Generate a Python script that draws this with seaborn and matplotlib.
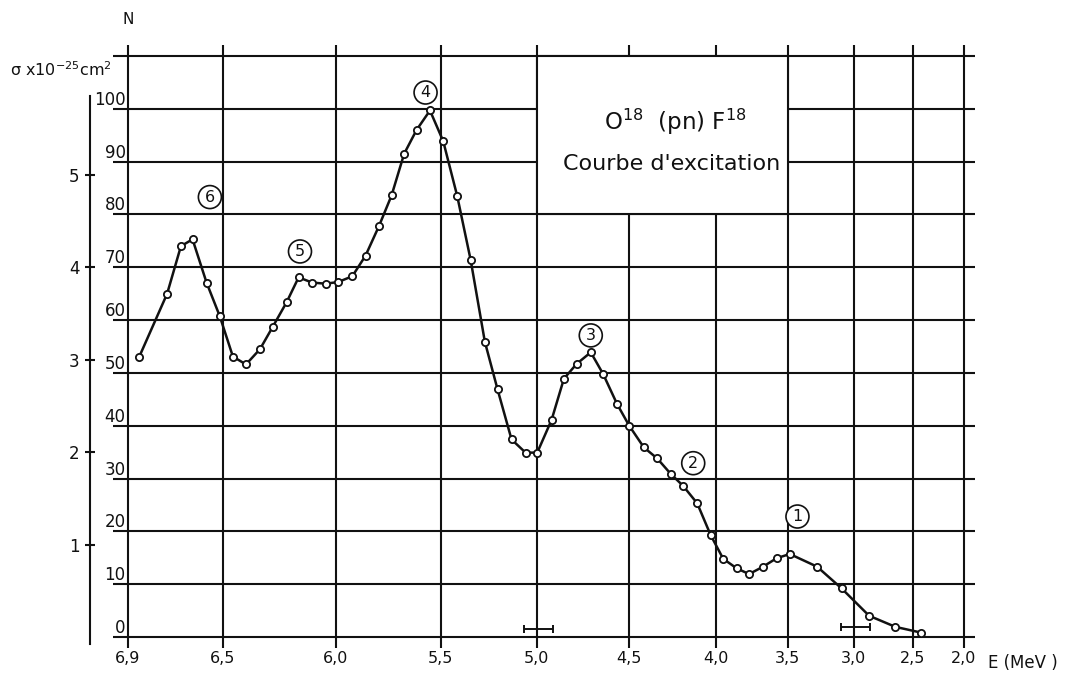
import numpy as np
import pandas as pd
import seaborn as sns
import matplotlib.pyplot as plt
from matplotlib.patches import Rectangle

# energy (MeV) and counts N
energy = [6.852, 6.735, 6.677, 6.628, 6.569, 6.513, 6.456, 6.398, 6.336, 6.280,
          6.218, 6.165, 6.105, 6.046, 5.990, 5.922, 5.859, 5.795, 5.735, 5.675,
          5.616, 5.552, 5.488, 5.415, 5.345, 5.271, 5.205, 5.132, 5.059, 4.998,
          4.920, 4.853, 4.784, 4.707, 4.640, 4.564, 4.498, 4.414, 4.337, 4.260,
          4.188, 4.107, 4.030, 3.949, 3.856, 3.769, 3.672, 3.578, 3.485, 3.278,
          3.093, 2.870, 2.647, 2.415]
counts = [53.1, 65.0, 74.0, 75.3, 67.1, 60.7, 53.1, 51.6, 54.5, 58.7,
          63.4, 68.1, 67.1, 66.9, 67.2, 68.3, 72.2, 77.8, 83.6, 91.5,
          96.0, 99.7, 93.9, 83.5, 71.4, 55.9, 46.9, 37.4, 34.9, 34.9,
          41.1, 48.9, 51.7, 53.9, 49.8, 44.1, 40.0, 35.9, 33.8, 30.9,
          28.6, 25.3, 19.3, 14.8, 13.0, 11.9, 13.3, 14.9, 15.7, 13.3,
          9.2, 4.0, 1.9, 0.8]

peak_txt = ["6", "5", "4", "3", "2", "1"]
peak_E = [6.555, 6.159, 5.573, 4.707, 4.130, 3.427]
peak_N = [83.3, 73.0, 103.1, 57.1, 32.9, 22.8]

# energy resolution bars
res_E = [4.99, 2.98]
res_N = [1.5, 1.8]
res_lo = [0.078, 0.12]
res_hi = [0.078, 0.12]

e_ticks = [6.9, 6.5, 6.0, 5.5, 5.0, 4.5, 4.0, 3.5, 3.0, 2.5, 2.0]
e_labels = ["6,9", "6,5", "6,0", "5,5", "5,0", "4,5", "4,0", "3,5", "3,0", "2,5", "2,0"]
n_ticks = list(range(0, 111, 10))
n_labels = [str(v) for v in range(0, 101, 10)] + [""]
sigma_ticks = [1, 2, 3, 4, 5]

# the energy axis of the original is not linear: position of each tick on the paper
tick_pos = np.array([0, 95, 208, 313, 409, 501, 588, 660, 726, 785, 836], float)
e_arr = np.array(e_ticks)
e_asc = e_arr[::-1]
p_asc_e = tick_pos[::-1]


def paper_pos(e):
    e = np.asarray(e, float)
    u = np.interp(e, e_asc, p_asc_e)
    s_lo = (p_asc_e[1] - p_asc_e[0]) / (e_asc[1] - e_asc[0])
    s_hi = (p_asc_e[-1] - p_asc_e[-2]) / (e_asc[-1] - e_asc[-2])
    u = np.where(e < e_asc[0], p_asc_e[0] + (e - e_asc[0]) * s_lo, u)
    u = np.where(e > e_asc[-1], p_asc_e[-1] + (e - e_asc[-1]) * s_hi, u)
    return u


def paper_energy(u):
    u = np.asarray(u, float)
    e = np.interp(u, tick_pos, e_arr)
    s_lo = (e_arr[1] - e_arr[0]) / (tick_pos[1] - tick_pos[0])
    s_hi = (e_arr[-1] - e_arr[-2]) / (tick_pos[-1] - tick_pos[-2])
    e = np.where(u < tick_pos[0], e_arr[0] + (u - tick_pos[0]) * s_lo, e)
    e = np.where(u > tick_pos[-1], e_arr[-1] + (u - tick_pos[-1]) * s_hi, e)
    return e


def fwd(e):
    return -paper_pos(e)


def inv(u):
    return paper_energy(-np.asarray(u, float))


sns.set_theme(style="white")
plt.rcParams["font.family"] = ["DejaVu Sans"]

df = pd.DataFrame({"E": energy, "N": counts})

fig = plt.figure(figsize=(10.8, 6.75), dpi=100)
ax = fig.add_axes([113 / 1080, 27 / 675, 862 / 1080, 603 / 675])
ax.set_xscale("function", functions=(fwd, inv))

sns.lineplot(data=df, x="E", y="N", sort=False, estimator=None, ax=ax,
             color="#111111", lw=1.8, marker="o", markersize=5.2,
             markerfacecolor="white", markeredgecolor="#111111",
             markeredgewidth=1.3, zorder=3)

ax.set_xlim(6.963, 1.89)
ax.set_ylim(-2.1, 112.1)
ax.set_xlabel("")
ax.set_ylabel("")

for s in ax.spines.values():
    s.set_visible(False)

ax.set_xticks(e_ticks)
ax.set_xticklabels(e_labels)
ax.set_yticks(n_ticks)
ax.set_yticklabels(n_labels)
ax.minorticks_off()
ax.tick_params(axis="x", length=0, pad=2, labelsize=11.5, colors="#111111")
ax.tick_params(axis="y", length=0, pad=-9, labelsize=12, colors="#111111")
for lab in ax.get_yticklabels():
    lab.set_va("bottom")
ax.grid(True, color="#111111", lw=1.5)
ax.set_axisbelow(True)

# title box that blanks out the grid
ax.add_patch(Rectangle((3.5, 80), 1.5, 30, facecolor="white", edgecolor="#111111",
                       lw=1.5, zorder=1.5))
ax.text(0.6525, 0.872, "O$^{18}$  (pn) F$^{18}$", transform=ax.transAxes,
        ha="center", va="center", fontsize=16.5, color="#111111")
ax.text(0.648, 0.803, "Courbe d'excitation", transform=ax.transAxes,
        ha="center", va="center", fontsize=16, color="#111111")

ax.errorbar(res_E, res_N, xerr=[res_lo, res_hi], fmt="none", ecolor="#111111",
            elinewidth=1.4, capsize=3, capthick=1.4, zorder=3)

for t, x, y in zip(peak_txt, peak_E, peak_N):
    ax.text(x, y, t, ha="center", va="center", fontsize=11.5, color="#111111",
            bbox=dict(boxstyle="circle,pad=0.25", fc="white", ec="#111111", lw=1.2),
            zorder=4)

# sigma scale, 1e-25 cm2
sec = ax.secondary_yaxis(-0.027, functions=(lambda n: n / 17.5, lambda s: s * 17.5))
sec.set_yticks(sigma_ticks)
sec.set_yticklabels([str(v) for v in sigma_ticks])
sec.spines["left"].set_bounds(-0.08, 5.85)
sec.spines["left"].set_linewidth(1.5)
sec.spines["left"].set_color("#111111")
sec.tick_params(direction="inout", length=7, width=1.5, pad=4, labelsize=12,
                colors="#111111")

fig.text(128 / 1080, 1 - 20 / 675, "N", ha="center", va="center", fontsize=11,
         color="#111111")
fig.text(10 / 1080, 1 - 70 / 675, "σ x10$^{-25}$cm$^2$", ha="left", va="center",
         fontsize=11.5, color="#111111")
fig.text(988 / 1080, 1 - 663 / 675, "E (MeV )", ha="left", va="center",
         fontsize=12, color="#111111")

fig.savefig("out.png", dpi=100, facecolor="white")
